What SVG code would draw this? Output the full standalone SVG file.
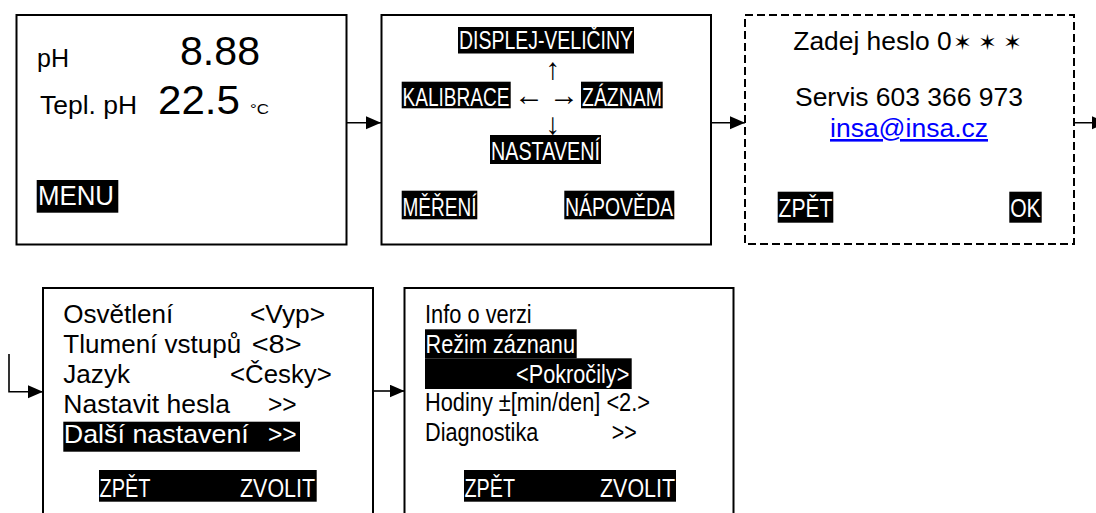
<svg xmlns="http://www.w3.org/2000/svg" width="1096" height="513" viewBox="0 0 1096 513">
<style>
.box{fill:#fff;stroke:#000;stroke-width:2}
.dash{stroke-dasharray:8 4}
.t{font-family:"Liberation Sans",Arial,sans-serif;fill:#000}
.n{font-family:"Liberation Sans Narrow","Arial Narrow","Liberation Sans",Arial,sans-serif;fill:#000}
.w{fill:#fff}
.hl{fill:#000}
.ar{font-family:"Liberation Sans",Arial,sans-serif;fill:#000}
.st{font-family:"DejaVu Sans",sans-serif;fill:#000}
.con{fill:none;stroke:#000;stroke-width:1.6}
</style>
<defs>
<marker id="ah" markerUnits="userSpaceOnUse" markerWidth="16" markerHeight="14" refX="15" refY="6.5" orient="auto">
<path d="M0,0 L15,6.5 L0,13 z" fill="#000"/>
</marker>
</defs>
<rect width="1096" height="513" fill="#fff"/>

<g id="connectors">
<line class="con" x1="347" y1="122.7" x2="381" y2="122.7" marker-end="url(#ah)"/>
<line class="con" x1="711" y1="122.7" x2="745" y2="122.7" marker-end="url(#ah)"/>
<line class="con" x1="1074" y1="122.7" x2="1107" y2="122.7" marker-end="url(#ah)"/>
<polyline class="con" points="9,354 9,391.7 43,391.7" marker-end="url(#ah)"/>
<line class="con" x1="373" y1="391" x2="404.5" y2="391" marker-end="url(#ah)"/>
</g>

<g id="node-mereni">
<rect class="box" x="16.5" y="15" width="330" height="229.5"/>
<text class="t" x="37" y="67" font-size="25" textLength="32" lengthAdjust="spacingAndGlyphs">pH</text>
<text class="t" x="180" y="64.5" font-size="41" textLength="80" lengthAdjust="spacingAndGlyphs">8.88</text>
<text class="t" x="40" y="114" font-size="25" textLength="97" lengthAdjust="spacingAndGlyphs">Tepl. pH</text>
<text class="t" x="158" y="114" font-size="41" textLength="82" lengthAdjust="spacingAndGlyphs">22.5</text>
<text class="t" x="250" y="114" font-size="15" textLength="19" lengthAdjust="spacingAndGlyphs">°C</text>
<rect class="hl" x="36.7" y="180" width="81.6" height="32.7"/>
<text class="t w" x="38" y="205" font-size="27" textLength="76" lengthAdjust="spacingAndGlyphs">MENU</text>
</g>

<g id="node-menu">
<rect class="box" x="381.5" y="15" width="329.5" height="229.5"/>
<rect class="hl" x="458" y="27" width="176" height="26.5"/>
<text class="n w" x="459" y="49" font-size="26" textLength="174" lengthAdjust="spacingAndGlyphs">DISPLEJ-VELIČINY</text>
<text class="ar" x="552.7" y="79" font-size="30" text-anchor="middle">↑</text>
<rect class="hl" x="401.7" y="81.7" width="109" height="26.6"/>
<text class="n w" x="402.5" y="105.5" font-size="26" textLength="107" lengthAdjust="spacingAndGlyphs">KALIBRACE</text>
<text class="ar" x="529" y="104.7" font-size="30" text-anchor="middle">←</text>
<text class="ar" x="564" y="104.7" font-size="30" text-anchor="middle">→</text>
<rect class="hl" x="581" y="81.7" width="81.7" height="26.6"/>
<text class="n w" x="582" y="105.5" font-size="26" textLength="80" lengthAdjust="spacingAndGlyphs">ZÁZNAM</text>
<text class="ar" x="552.7" y="134" font-size="30" text-anchor="middle">↓</text>
<rect class="hl" x="490" y="135" width="111" height="29"/>
<text class="n w" x="491" y="160" font-size="26" textLength="109" lengthAdjust="spacingAndGlyphs">NASTAVENÍ</text>
<rect class="hl" x="401.7" y="190.7" width="75.6" height="28.6"/>
<text class="n w" x="402.5" y="215.5" font-size="26" textLength="74" lengthAdjust="spacingAndGlyphs">MĚŘENÍ</text>
<rect class="hl" x="564.3" y="190.7" width="110" height="28.6"/>
<text class="n w" x="565" y="215.5" font-size="26" textLength="108" lengthAdjust="spacingAndGlyphs">NÁPOVĚDA</text>
</g>

<g id="node-heslo">
<rect class="box dash" x="745" y="15" width="329" height="229"/>
<text class="t" x="793.3" y="50" font-size="26" textLength="158.4" lengthAdjust="spacingAndGlyphs">Zadej heslo 0</text>
<text class="st" x="962.5" y="50" font-size="22" text-anchor="middle">✶</text>
<text class="st" x="987.5" y="50" font-size="22" text-anchor="middle">✶</text>
<text class="st" x="1012.5" y="50" font-size="22" text-anchor="middle">✶</text>
<text class="t" x="795" y="106" font-size="26" textLength="228" lengthAdjust="spacingAndGlyphs">Servis 603 366 973</text>
<text class="t" x="830" y="137" font-size="26" textLength="158" lengthAdjust="spacingAndGlyphs" style="fill:#0000ff" text-decoration="underline">insa@insa.cz</text>
<rect class="hl" x="777.7" y="191.7" width="55.6" height="31"/>
<text class="n w" x="778.5" y="217" font-size="26" textLength="54" lengthAdjust="spacingAndGlyphs">ZPĚT</text>
<rect class="hl" x="1009.3" y="191.7" width="32.4" height="31"/>
<text class="n w" x="1010.2" y="217" font-size="26" textLength="30.5" lengthAdjust="spacingAndGlyphs">OK</text>
</g>

<g id="node-nastaveni">
<rect class="box" x="43" y="288" width="330" height="250"/>
<text class="t" x="63.3" y="323" font-size="26" textLength="110" lengthAdjust="spacingAndGlyphs">Osvětlení</text>
<text class="t" x="250" y="323" font-size="26" textLength="75" lengthAdjust="spacingAndGlyphs">&lt;Vyp&gt;</text>
<text class="t" x="63.3" y="352.5" font-size="26" textLength="178" lengthAdjust="spacingAndGlyphs">Tlumení vstupů</text>
<text class="t" x="251.7" y="352.5" font-size="26" textLength="50" lengthAdjust="spacingAndGlyphs">&lt;8&gt;</text>
<text class="t" x="63.3" y="382.5" font-size="26" textLength="66.7" lengthAdjust="spacingAndGlyphs">Jazyk</text>
<text class="t" x="230" y="382.5" font-size="26" textLength="101.7" lengthAdjust="spacingAndGlyphs">&lt;Česky&gt;</text>
<text class="t" x="63.3" y="412.5" font-size="26" textLength="166.7" lengthAdjust="spacingAndGlyphs">Nastavit hesla</text>
<text class="t" x="268" y="412.5" font-size="26" textLength="28.7" lengthAdjust="spacingAndGlyphs">&gt;&gt;</text>
<rect class="hl" x="63.3" y="421.7" width="236.7" height="30"/>
<text class="t w" x="63.8" y="443.3" font-size="26" textLength="185" lengthAdjust="spacingAndGlyphs">Další nastavení</text>
<text class="t w" x="268" y="443.3" font-size="26" textLength="28.7" lengthAdjust="spacingAndGlyphs">&gt;&gt;</text>
<rect class="hl" x="99" y="470" width="217.7" height="31.7"/>
<text class="n w" x="99.5" y="497" font-size="26" textLength="51" lengthAdjust="spacingAndGlyphs">ZPĚT</text>
<text class="n w" x="240" y="497" font-size="26" textLength="75" lengthAdjust="spacingAndGlyphs">ZVOLIT</text>
</g>

<g id="node-dalsi">
<rect class="box" x="404.5" y="288" width="329" height="250"/>
<text class="n" x="425" y="323.3" font-size="26" textLength="106.7" lengthAdjust="spacingAndGlyphs">Info o verzi</text>
<rect class="hl" x="425" y="329.3" width="151.7" height="29"/>
<text class="n w" x="425.5" y="352.7" font-size="26" textLength="149.5" lengthAdjust="spacingAndGlyphs">Režim záznanu</text>
<rect class="hl" x="425" y="358.3" width="206.7" height="30.7"/>
<text class="n w" x="516" y="383.3" font-size="26" textLength="113.3" lengthAdjust="spacingAndGlyphs">&lt;Pokročily&gt;</text>
<text class="n" x="425" y="411" font-size="26" textLength="225" lengthAdjust="spacingAndGlyphs">Hodiny ±[min/den] &lt;2.&gt;</text>
<text class="n" x="425" y="441" font-size="26" textLength="113.3" lengthAdjust="spacingAndGlyphs">Diagnostika</text>
<text class="n" x="611.7" y="441" font-size="26" textLength="25" lengthAdjust="spacingAndGlyphs">&gt;&gt;</text>
<rect class="hl" x="464" y="470" width="212" height="31.7"/>
<text class="n w" x="464.5" y="497" font-size="26" textLength="50.5" lengthAdjust="spacingAndGlyphs">ZPĚT</text>
<text class="n w" x="600" y="497" font-size="26" textLength="75" lengthAdjust="spacingAndGlyphs">ZVOLIT</text>
</g>
</svg>
